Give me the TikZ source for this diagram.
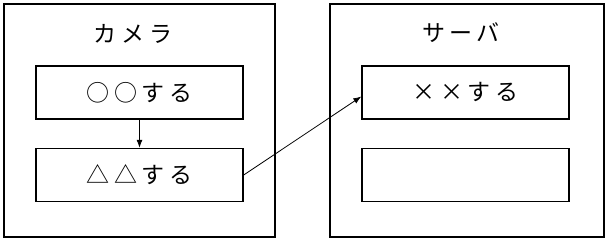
\documentclass[tikz,border=0pt]{standalone}
\usepackage{fontspec}
\newfontfamily\jp[LetterSpace=20]{Noto Sans CJK JP}
\usetikzlibrary{arrows.meta}
\begin{document}
\begin{tikzpicture}[x=1pt,y=-1pt,
  outerbox/.style={draw,line width=1.4pt,minimum width=#1,minimum height=233pt,inner sep=0pt},
  innerbox/.style={draw,line width=1.4pt,minimum width=207pt,minimum height=53pt,inner sep=0pt,font=\jp\fontsize{23}{27}\selectfont},
  title/.style={font=\jp\fontsize{23}{27}\selectfont,inner sep=0pt},
  conn/.style={line width=0.8pt,-{Latex[length=8pt,width=6pt]}}]
\useasboundingbox (0,0) rectangle (605,240);
\node[outerbox=271pt] (cam) at (139.5,120.5) {};
\node[outerbox=274pt] (srv) at (467,120.5) {};
\node[title] (camt) at (133,34) {カメラ};
\node[title] (srvt) at (461,33) {サーバ};
\node[innerbox] (lt) at (139.5,92.5) {○○する};
\node[innerbox] (lb) at (139.5,175) {△△する};
\node[innerbox] (rt) at (465.5,92.5) {××する};
\node[innerbox] (rb) at (465.5,175) {};
\draw[conn] (lt.south) -- (lb.north);
\draw[conn] (lb.east) -- ([yshift=-4pt]rt.west);
\end{tikzpicture}
\end{document}
